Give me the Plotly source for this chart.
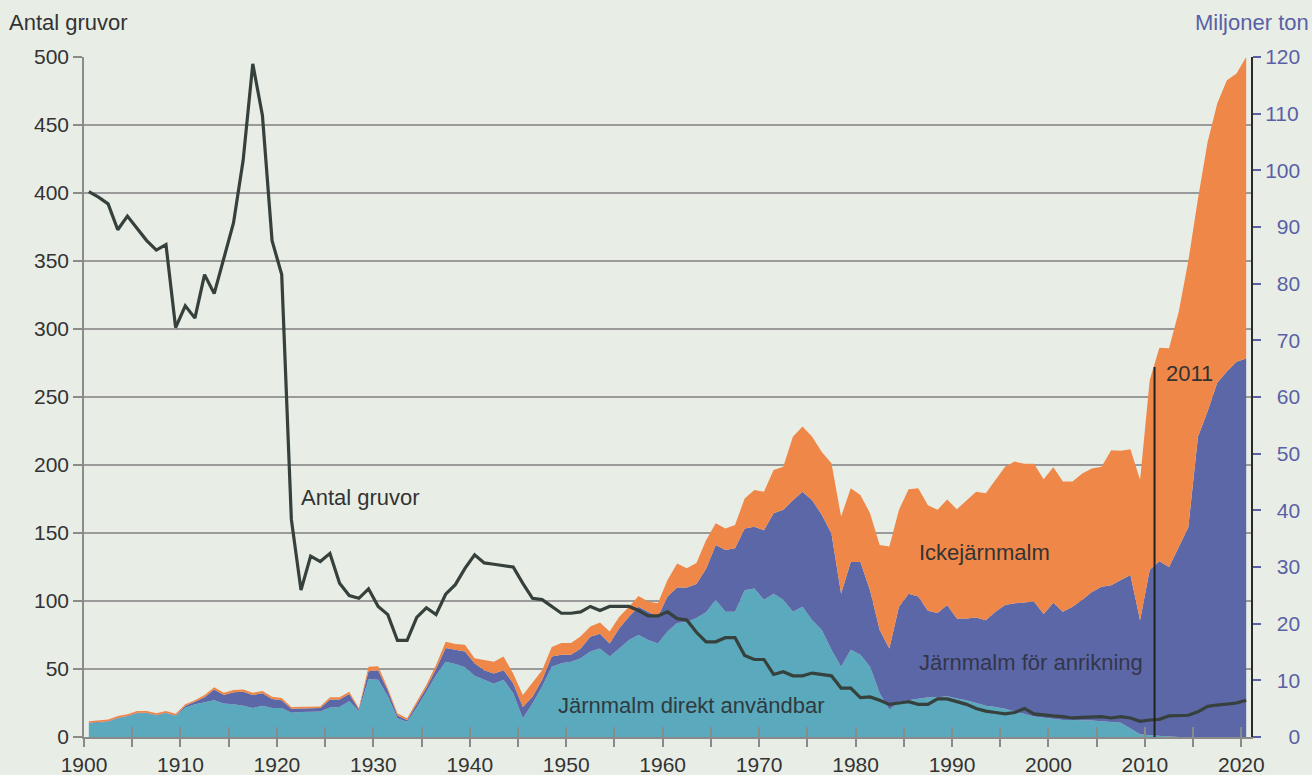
import plotly.graph_objects as go

years = list(range(1900, 2021))

# Antal gruvor (left axis)
antal_gruvor = [
    401, 397, 392, 373, 383, 374, 365, 358, 362, 301,
    317, 308, 340, 326, 352, 378, 424, 495, 457, 365,
    340, 160, 108, 133, 129, 135, 113, 104, 102, 109,
    96, 90, 71, 71, 88, 95, 90, 105, 112, 124,
    134, 128, 127, 126, 125, 113, 102, 101, 96, 91,
    91, 92, 96, 93, 96, 96, 96, 93, 89, 89,
    92, 87, 86, 77, 70, 70, 73, 73, 60, 57,
    57, 46, 48, 45, 45, 47, 46, 45, 36, 36,
    29, 29.5, 27, 24, 25, 26, 24, 24, 28, 28,
    26, 24, 21, 19, 18, 17, 18, 21, 17, 16,
    15.5, 15, 14, 14.5, 15, 15, 14, 15, 14, 11.5,
    12.5, 13, 15.5, 16, 16, 18.5, 22.5, 23.5, 24.5, 25,
    27,
]

# Miljoner ton (right axis), stacked
jarnmalm_direkt = [
    2.4, 2.5, 2.7, 3.3, 3.6, 4.2, 4.2, 3.8, 4.2, 3.7,
    5.2, 5.8, 6.2, 6.5, 5.9, 5.8, 5.5, 5.1, 5.5, 5.1,
    5.1, 4.3, 4.4, 4.5, 4.5, 5.2, 5.3, 6.3, 4.6, 10.2,
    10.1, 7.2, 3.3, 2.7, 5.2, 8.0, 10.9, 13.3, 12.9, 12.3,
    10.8, 10.1, 9.4, 10.1, 7.7, 3.3, 5.9, 8.9, 12.4, 13.0,
    13.3, 13.9, 15.1, 15.6, 14.2, 15.6, 17.1, 18.0, 17.1, 16.5,
    18.6, 20.1, 20.3, 21.0, 22.0, 24.2, 22.1, 22.1, 25.9, 26.2,
    24.2, 25.3, 24.2, 22.1, 23.0, 20.6, 18.9, 15.4, 12.4, 15.4,
    14.5, 12.4, 7.7, 4.8, 6.2, 6.5, 6.8, 7.0, 7.0, 7.2,
    6.8, 6.5, 6.0, 5.5, 5.3, 5.0, 4.5, 4.0, 3.6, 3.4,
    3.2, 3.0, 3.0, 3.0, 2.9, 2.8, 2.7, 2.5, 1.5, 0.5,
    0.3, 0.2, 0.0, 0.0, 0.0, 0.0, 0.0, 0.0, 0.0, 0.0,
    0.0,
]
jarnmalm_anrikning = [
    0.1, 0.1, 0.1, 0.1, 0.1, 0.1, 0.1, 0.1, 0.1, 0.1,
    0.3, 0.4, 0.8, 1.9, 1.5, 2.1, 2.5, 2.3, 2.2, 1.6,
    1.4, 0.7, 0.6, 0.5, 0.6, 1.4, 1.3, 1.3, 0.3, 1.4,
    1.7, 1.0, 0.5, 0.3, 0.6, 0.7, 1.1, 2.4, 2.5, 2.8,
    2.2, 1.7, 1.8, 1.7, 1.8, 2.0, 1.2, 1.2, 1.8, 1.5,
    1.2, 1.7, 2.6, 2.6, 2.3, 3.6, 4.1, 5.0, 5.0, 4.7,
    6.2, 6.3, 6.1, 6.0, 7.7, 9.7, 10.9, 11.2, 10.9, 10.9,
    12.3, 14.2, 15.9, 19.7, 20.3, 21.2, 20.3, 20.5, 12.9, 15.5,
    16.4, 13.5, 11.2, 10.8, 16.8, 18.8, 18.0, 15.3, 14.9, 16.1,
    14.1, 14.4, 15.1, 15.1, 16.8, 18.3, 19.1, 19.7, 20.3, 18.3,
    20.5, 19.1, 20.0, 21.2, 22.7, 23.7, 24.1, 25.2, 27.1, 20.1,
    29.2, 30.8, 30.0, 33.5, 37.0, 53.0, 57.5, 62.5, 64.5, 66.2,
    66.8,
]
ickejarnmalm = [
    0.3, 0.3, 0.3, 0.3, 0.3, 0.3, 0.3, 0.3, 0.3, 0.3,
    0.3, 0.3, 0.4, 0.4, 0.4, 0.4, 0.4, 0.4, 0.4, 0.4,
    0.4, 0.3, 0.3, 0.3, 0.3, 0.4, 0.4, 0.4, 0.2, 0.8,
    0.7, 0.4, 0.4, 0.3, 0.4, 0.5, 0.7, 1.1, 1.0, 1.2,
    0.9, 1.8, 2.1, 2.4, 1.7, 2.1, 2.4, 1.7, 1.7, 2.1,
    2.1, 2.2, 1.8, 2.0, 2.1, 2.0, 1.8, 1.9, 1.8, 2.4,
    2.9, 4.2, 3.4, 3.7, 5.0, 3.8, 3.8, 4.1, 5.3, 6.5,
    6.8, 7.6, 7.6, 11.2, 11.5, 11.2, 11.1, 12.4, 13.6, 13.0,
    11.8, 13.6, 15.0, 18.0, 17.1, 18.4, 19.1, 18.6, 18.2, 18.6,
    19.3, 20.9, 22.2, 22.4, 23.3, 24.4, 25.0, 24.5, 24.3, 23.8,
    23.9, 23.0, 22.1, 22.3, 21.8, 21.2, 23.8, 22.8, 22.2, 24.8,
    33.5, 37.7, 38.6, 41.5, 47.0, 42.0, 47.5, 49.3, 51.4, 50.9,
    53.2,
]

left_ticks = list(range(0, 501, 50))
right_ticks = list(range(0, 121, 10))
x_ticks = list(range(1900, 2021, 5))

assert len(years) == len(antal_gruvor) == len(jarnmalm_direkt) == len(jarnmalm_anrikning) == len(ickejarnmalm)

# annual values plotted at mid-year
xpos = [y + 0.5 for y in years]

BG = "#e8eee6"
TEAL = "#5aa9bc"
BLUE = "#5c67a8"
ORANGE = "#ef8748"
LINE = "#36403c"
RIGHT_COL = "#5a60a6"
TXT = "#333333"
FONT = "Liberation Sans, Arial, sans-serif"

fig = go.Figure()

for name, vals, col in [
    ("Järnmalm direkt användbar", jarnmalm_direkt, TEAL),
    ("Järnmalm för anrikning", jarnmalm_anrikning, BLUE),
    ("Ickejärnmalm", ickejarnmalm, ORANGE),
]:
    fig.add_trace(go.Scatter(
        x=xpos, y=vals, name=name, mode="lines", stackgroup="one",
        line=dict(width=0, color=col), fillcolor=col,
        xaxis="x", yaxis="y", showlegend=False,
    ))

fig.add_trace(go.Scatter(
    x=xpos, y=antal_gruvor, name="Antal gruvor", mode="lines",
    line=dict(color=LINE, width=3.2), xaxis="x", yaxis="y2", showlegend=False,
))

# dummy trace for the inner tick axis
fig.add_trace(go.Scatter(x=[None], y=[None], xaxis="x2", yaxis="y",
                         showlegend=False, hoverinfo="skip"))

def pad(s, n=3):
    return "\u2007" * (n - len(s)) + s

fig.update_layout(
    width=1312, height=775,
    margin=dict(l=84, r=61, t=57, b=38),
    paper_bgcolor=BG, plot_bgcolor=BG,
    font=dict(family=FONT, size=21, color=TXT),
    showlegend=False,
    xaxis=dict(
        range=[1900, 2021], tickvals=x_ticks,
        ticktext=[str(v) if v % 10 == 0 else "" for v in x_ticks],
        ticks="outside", ticklen=8, tickwidth=1.5, tickcolor="#8a8a8a",
        showline=True, linecolor="#8a8a8a", linewidth=1.5,
        showgrid=False, zeroline=False, anchor="y", automargin=False,
        tickfont=dict(size=21, color=TXT),
    ),
    xaxis2=dict(
        range=[1900, 2021], overlaying="x", anchor="y", automargin=False,
        tickvals=x_ticks, ticks="inside", ticklen=10, tickwidth=1.5,
        tickcolor="#8a8a8a", showticklabels=False, showgrid=False,
        showline=False, zeroline=False,
    ),
    yaxis=dict(
        range=[0, 120], side="right", tickvals=right_ticks,
        ticktext=[pad(str(v)) for v in right_ticks],
        ticks="outside", ticklen=8, tickwidth=2, tickcolor=RIGHT_COL,
        showline=True, linecolor="#2a2a2a", linewidth=2,
        showgrid=False, zeroline=False, automargin=False,
        tickfont=dict(size=21, color=RIGHT_COL),
    ),
    yaxis2=dict(
        range=[0, 500], side="left", overlaying="y", tickvals=left_ticks,
        ticks="outside", ticklen=9, tickwidth=1.5, tickcolor="#8a8a8a",
        showline=True, linecolor="#8a8a8a", linewidth=1.5,
        showgrid=True, gridcolor="#9a9a9a", gridwidth=1.5,
        zeroline=False, automargin=False, tickfont=dict(size=21, color=TXT),
    ),
    shapes=[dict(
        type="line", xref="x", yref="y", x0=2011, x1=2011, y0=0, y1=65.3,
        line=dict(color="#222222", width=2),
    )],
    annotations=[
        dict(text="Antal gruvor", xref="paper", yref="paper",
             x=(7 - 84) / 1167, y=(737 - 23) / 680, xanchor="left", yanchor="middle",
             showarrow=False, font=dict(size=22, color=TXT)),
        dict(text="Miljoner ton", xref="paper", yref="paper",
             x=(1311 - 84) / 1167, y=(737 - 23) / 680, xanchor="right", yanchor="middle",
             showarrow=False, font=dict(size=22, color=RIGHT_COL)),
        dict(text="Antal gruvor", xref="x", yref="y2", x=1922.3, y=176,
             xanchor="left", yanchor="middle", showarrow=False,
             font=dict(size=22, color=TXT)),
        dict(text="Ickejärnmalm", xref="x", yref="y", x=1986.4, y=32.6,
             xanchor="left", yanchor="middle", showarrow=False,
             font=dict(size=22, color=TXT)),
        dict(text="Järnmalm för anrikning", xref="x", yref="y", x=1986.4, y=13.2,
             xanchor="left", yanchor="middle", showarrow=False,
             font=dict(size=22, color="#33364a")),
        dict(text="Järnmalm direkt användbar", xref="x", yref="y", x=1948.9, y=5.6,
             xanchor="left", yanchor="middle", showarrow=False,
             font=dict(size=22, color="#2f3a40")),
        dict(text="2011", xref="x", yref="y", x=2012.0, y=64.2,
             xanchor="left", yanchor="middle", showarrow=False,
             font=dict(size=22, color=TXT)),
    ],
)

fig.write_html(
    "out.html",
    config={"displayModeBar": False},
    post_script="document.body.style.margin='0';document.body.style.overflow='hidden';",
)
